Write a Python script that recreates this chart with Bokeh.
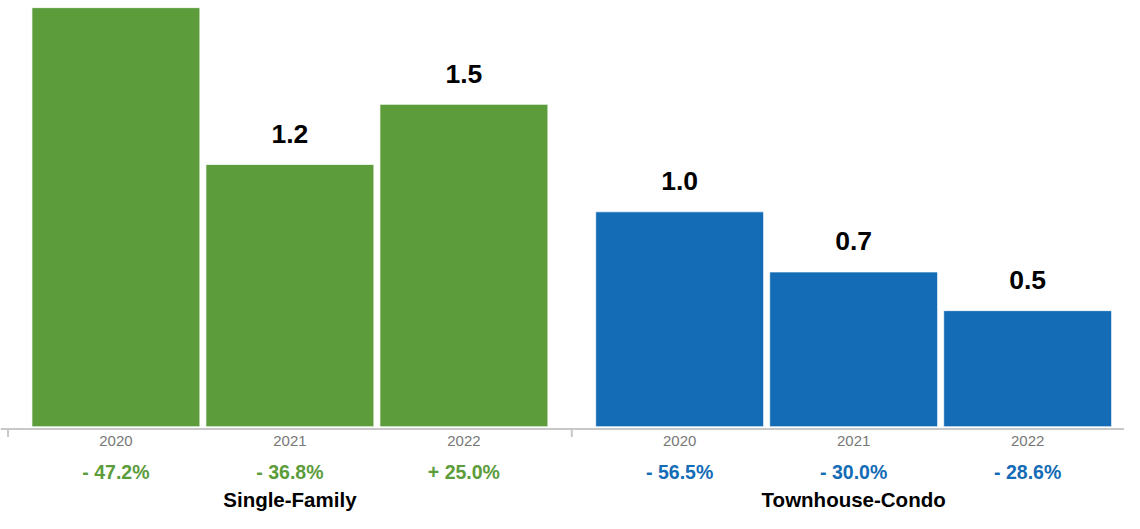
from bokeh.plotting import figure
from bokeh.models import ColumnDataSource, Range1d
from bokeh.core.properties import value
from bokeh.embed import file_html
from bokeh.resources import INLINE

# ---- data ----
groups = ["Single-Family", "Townhouse-Condo"]
years = ["2020", "2021", "2022"]
single_family = [1.95, 1.22, 1.50]
townhouse_condo = [1.00, 0.72, 0.54]
sf_change = ["- 47.2%", "- 36.8%", "+ 25.0%"]
tc_change = ["- 56.5%", "- 30.0%", "- 28.6%"]

# ---- style ----
GREEN = "#5c9c3b"
BLUE = "#136cb5"
AXIS_GRAY = "#c8c8c8"
FONT = value("Liberation Sans")
W, H = 1124, 513
PX_X = 174.0          # px per category slot
PX_Y = 214.9          # px per unit of value
GAP = 0.24            # extra gap between groups (slots)
X0 = -115.4 / PX_X
Y_BASE_PX = 426.2     # baseline position from top of canvas
Y_TOP = Y_BASE_PX / PX_Y
LABEL_ROOM = 45 / PX_Y

n = len(years)
xs, vals, colors, yrs, chg = [], [], [], [], []
for g, (series, changes, col) in enumerate(
        [(single_family, sf_change, GREEN), (townhouse_condo, tc_change, BLUE)]):
    for i, v in enumerate(series):
        xs.append(g * (n + GAP) + i)
        vals.append(v)
        colors.append(col)
        yrs.append(years[i])
        chg.append(changes[i])

src = ColumnDataSource(dict(x=xs, top=vals, color=colors,
                            year=yrs, change=chg, zero=[0] * len(xs)))

# value labels only where they fit inside the plot (as in the original)
lab = [(x, v, f"{v:.1f}") for x, v in zip(xs, vals) if v + LABEL_ROOM < Y_TOP]
lsrc = ColumnDataSource(dict(x=[a[0] for a in lab], y=[a[1] for a in lab],
                             text=[a[2] for a in lab]))

p = figure(width=W, height=H, output_backend="svg", toolbar_location=None,
           x_axis_type=None, y_axis_type=None,
           x_range=Range1d(X0, X0 + W / PX_X),
           y_range=Range1d(-(H - Y_BASE_PX) / PX_Y, Y_TOP),
           min_border=0)
p.outline_line_color = None
p.background_fill_color = "white"
p.border_fill_color = "white"

p.vbar(x="x", top="top", bottom=0, width=0.965, source=src,
       fill_color="color", line_color="white", line_width=1, line_alpha=0.7)

p.text(x="x", y="y", text="text", source=lsrc, text_align="center",
       text_baseline="alphabetic", y_offset=-30.5, text_font=FONT,
       text_font_style="bold", text_font_size="26.5px", text_color="black")

# axis line and ticks at group boundaries
axis_y = -2.4 / PX_Y
p.segment(x0=[X0], x1=[X0 + W / PX_X + 1], y0=[axis_y], y1=[axis_y],
          line_color=AXIS_GRAY, line_width=2)
bounds = [g * (n + GAP) - 0.5 - GAP / 2 for g in range(len(groups) + 1)]
p.segment(x0=bounds, x1=bounds, y0=[axis_y] * len(bounds),
          y1=[axis_y - 8 / PX_Y] * len(bounds), line_color=AXIS_GRAY, line_width=2)

# year labels
p.text(x="x", y="zero", text="year", source=src, text_align="center",
       text_baseline="alphabetic", y_offset=14.4, text_font=FONT,
       text_font_size="15px", text_color="#777777")

# change labels
p.text(x="x", y="zero", text="change", source=src, text_align="center",
       text_baseline="alphabetic", y_offset=44.9, text_font=FONT,
       text_font_style="bold", text_font_size="19.5px", text_color="color")

# group labels
gsrc = ColumnDataSource(dict(x=[g * (n + GAP) + (n - 1) / 2 for g in range(len(groups))],
                             y=[0] * len(groups), text=groups))
p.text(x="x", y="y", text="text", source=gsrc, text_align="center",
       text_baseline="alphabetic", y_offset=72.5, text_font=FONT,
       text_font_style="bold", text_font_size="20.5px", text_color="black")

open("out.html", "w").write(file_html(p, INLINE))
